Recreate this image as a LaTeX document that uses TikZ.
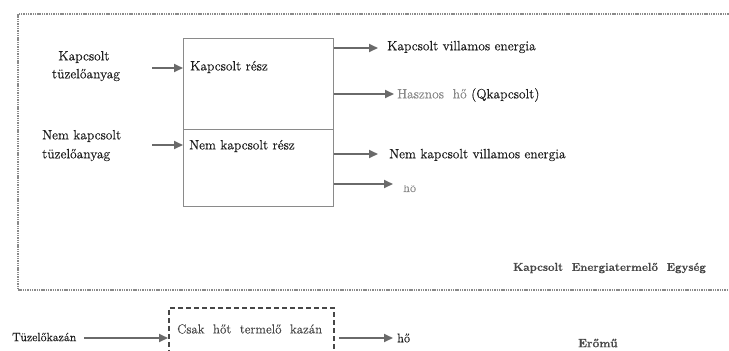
\documentclass[tikz,border=0pt]{standalone}
\usepackage{fontspec}
\setmainfont{Latin Modern Roman}[FakeBold=0.35]
\usetikzlibrary{arrows.meta}
\definecolor{lg}{HTML}{6A6A6A}
\definecolor{fr}{HTML}{8A8A8A}
\definecolor{dk}{HTML}{474747}
\definecolor{tx}{HTML}{1E1E1E}
\begin{document}
\begin{tikzpicture}[x=1pt,y=-1pt,
  txt/.style={font=\fontsize{13.5}{15}\selectfont, text=tx, inner sep=0pt, anchor=west},
  stxt/.style={font=\fontsize{12.5}{14}\selectfont, text=tx, inner sep=0pt, anchor=west},
  btxt/.style={font=\fontsize{11.5}{13}\selectfont\bfseries, text=dk, inner sep=0pt, anchor=west},
  arr/.style={draw=lg, line width=1.8pt, -{Triangle[length=9pt,width=8pt]}},
  part/.style={draw=fr, line width=1.3pt, anchor=north west, inner sep=0pt, minimum width=150pt},
  frame/.style={draw=fr, line width=2pt, dash pattern=on 1.4pt off 0.9pt},
  dbox/.style={draw=dk, line width=1.6pt, dash pattern=on 5pt off 3pt, anchor=north west, inner sep=0pt, minimum width=165pt, minimum height=60pt}
]
\useasboundingbox (0,0) rectangle (729,351);
\clip (0,0) rectangle (729,351);
\fill[white] (0,0) rectangle (729,351);

% outer dotted frame
\coordinate (fa) at (740,14);
\coordinate (fb) at (18,14);
\coordinate (fc) at (18,290);
\coordinate (fd) at (740,290);
\draw[frame] (fa) -- (fb) -- (fc) -- (fd);

% main box, two parts
\node[part, minimum height=91pt] (upper) at (183,38) {};
\node[part, minimum height=77pt] (lower) at (183,129) {};
\node[txt] (ut) at (190,67) {Kapcsolt rész};
\node[txt] (lt) at (189,146) {Nem kapcsolt rész};

% inputs
\node[txt, anchor=center] (in1a) at (84,57) {Kapcsolt};
\node[txt, anchor=center] (in1b) at (86,75) {tüzelőanyag};
\node[txt] (in2a) at (42,136) {Nem kapcsolt};
\node[txt] (in2b) at (42,155) {tüzelőanyag};
\coordinate (i1) at (152,68);
\coordinate (i2) at (152,145);
\draw[arr] (i1) -- (i1 -| upper.west);
\draw[arr] (i2) -- (i2 -| lower.west);

% outputs
\node[txt] (o1) at (387,47) {Kapcsolt villamos energia};
\node[txt] (o2) at (397,95) {\textcolor{fr}{Hasznos\ \ hő} (Qkapcsolt)};
\node[txt] (o3) at (389,155) {Nem kapcsolt villamos energia};
\coordinate (e1) at (378,48);
\coordinate (e2) at (394,94);
\coordinate (e3) at (378,154);
\coordinate (e4) at (393,184);
\draw[arr] (e1 -| upper.east) -- (e1);
\draw[arr] (e2 -| upper.east) -- (e2);
\draw[arr] (e3 -| lower.east) -- (e3);
\draw[arr] (e4 -| lower.east) -- (e4);
\begin{scope}
  \clip (398,185.5) rectangle (440,200);
  \node[stxt, anchor=base west, text=fr] (o4) at (403,192) {hő};
\end{scope}

\node[btxt] (keu) at (513,268) {Kapcsolt\ \ Energiatermelő\ \ Egység};

% bottom row
\node[stxt, font=\fontsize{12}{14}\selectfont] (tk) at (12,337) {Tüzelőkazán};
\node[dbox] (kazan) at (168,307) {};
\node[stxt, text=dk, font=\fontsize{13}{15}\selectfont] (kt) at (177,329) {Csak\ \ hőt\ \ termelő\ \ kazán};
\node[stxt] (ho) at (397,338) {hő};
\coordinate (bo) at (339,338);
\draw[arr] (tk.east) ++(8,1) -- (kazan.west |- 0,338);
\draw[arr] (bo) -- ([xshift=-4pt]ho.west);
\node[btxt, font=\fontsize{12}{14}\selectfont\bfseries] (erm) at (578,343) {Erőmű};
\end{tikzpicture}
\end{document}
